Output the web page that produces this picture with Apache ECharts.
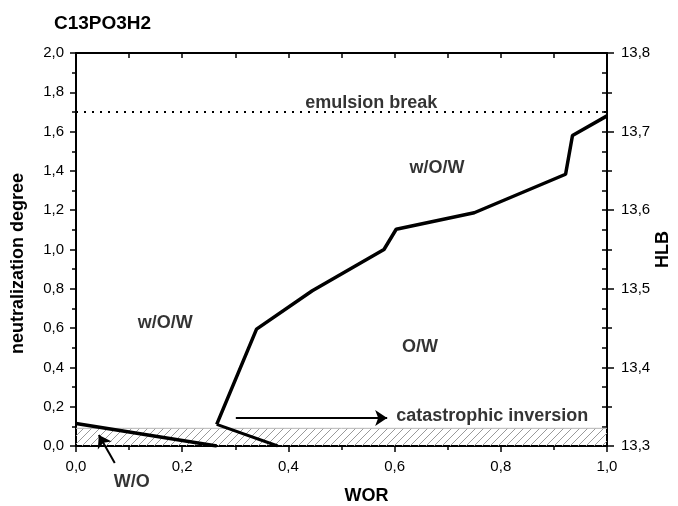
<!DOCTYPE html>
<html>
<head>
<meta charset="utf-8">
<script src="https://cdn.jsdelivr.net/npm/echarts@6/dist/echarts.min.js"></script>
<style>
  html, body { margin: 0; padding: 0; background: #fff; }
  #main { width: 678px; height: 506px; }
</style>
</head>
<body>
<div id="main"></div>
<script>
// 主曲线 (WOR, neutralization degree)
var mainCurve = [[0.265, 0.11], [0.34, 0.595], [0.445, 0.79], [0.58, 1.0], [0.603, 1.103],
  [0.75, 1.187], [0.922, 1.383], [0.935, 1.58], [1.0, 1.68]]
// W/O 边界线
var woLine = [[0.0, 0.115], [0.265, 0.0]]
var invLine = [[0.265, 0.11], [0.38, 0.0]]
// 阴影带与破乳线
var bandTop = 0.09
var breakLevel = 1.7
// 箭头
var invArrow = [[0.301, 0.1425], [0.586, 0.1425]]
var woArrow = [[0.073, -0.087], [0.043, 0.056]]
// 文字标注
var regionLabels = [
  { name: 'w/O/W', value: [0.168, 0.626] },
  { name: 'w/O/W', value: [0.68, 1.415] },
  { name: 'O/W', value: [0.648, 0.504] },
  { name: 'emulsion break', value: [0.556, 1.745] },
  { name: 'W/O', value: [0.105, -0.183] }
]
var invLabel = [{ name: 'catastrophic inversion', value: [0.603, 0.15] }]

function comma (v) {
  return v.toFixed(1).replace('.', ',')
}

// 斜线填充
function hatch () {
  var c = document.createElement('canvas')
  c.width = 8
  c.height = 8
  var ctx = c.getContext('2d')
  ctx.strokeStyle = '#9a9a9a'
  ctx.lineWidth = 1
  ctx.beginPath()
  ctx.moveTo(0, 8)
  ctx.lineTo(8, 0)
  ctx.moveTo(-2, 2)
  ctx.lineTo(2, -2)
  ctx.moveTo(6, 10)
  ctx.lineTo(10, 6)
  ctx.stroke()
  return c
}

var font = 'Liberation Sans, Arial, sans-serif'
var tickStyle = { width: 1.5, color: '#000' }
var myChart = echarts.init(document.getElementById('main'))
var option = {
  animation: false,
  textStyle: { fontFamily: font, color: '#000' },
  title: {
    text: 'C13PO3H2',
    left: 49,
    top: 9,
    textStyle: { fontFamily: font, fontSize: 19, fontWeight: 'bold', color: '#000' }
  },
  grid: { left: 76, right: 71, top: 53, bottom: 60, containLabel: false, outerBoundsMode: 'none' },
  xAxis: [
    {
      type: 'value',
      min: 0,
      max: 1,
      interval: 0.2,
      name: 'WOR',
      nameLocation: 'middle',
      nameGap: 41,
      nameTextStyle: { fontSize: 18, fontWeight: 'bold', color: '#000', padding: [0, 0, 0, 50] },
      axisLine: { show: true, onZero: false, lineStyle: { color: '#000', width: 2 } },
      axisTick: { show: true, length: 6, lineStyle: tickStyle },
      minorTick: { show: true, splitNumber: 2, length: 4, lineStyle: tickStyle },
      axisLabel: { show: true, fontSize: 15, color: '#000', margin: 13, formatter: comma },
      splitLine: { show: false }
    },
    {
      type: 'value',
      position: 'top',
      min: 0,
      max: 1,
      interval: 0.1,
      axisLine: { show: true, onZero: false, lineStyle: { color: '#000', width: 2 } },
      axisTick: { show: true, inside: true, length: 5, lineStyle: tickStyle },
      axisLabel: { show: false },
      splitLine: { show: false }
    }
  ],
  yAxis: [
    {
      type: 'value',
      min: 0,
      max: 2,
      interval: 0.2,
      name: 'neutralization degree',
      nameLocation: 'middle',
      nameGap: 49,
      nameTextStyle: { fontSize: 18, fontWeight: 'bold', color: '#000', padding: [0, 28, 0, 0] },
      axisLine: { show: true, onZero: false, lineStyle: { color: '#000', width: 2 } },
      axisTick: { show: true, length: 6, lineStyle: tickStyle },
      minorTick: { show: true, splitNumber: 2, length: 4, lineStyle: tickStyle },
      axisLabel: { show: true, fontSize: 15, color: '#000', margin: 12, formatter: comma },
      splitLine: { show: false }
    },
    {
      type: 'value',
      position: 'right',
      min: 13.3,
      max: 13.8,
      interval: 0.1,
      name: 'HLB',
      nameLocation: 'middle',
      nameGap: 47,
      nameRotate: 90,
      nameMoveOverlap: false,
      nameTextStyle: { fontSize: 18, fontWeight: 'bold', color: '#000' },
      axisLine: { show: true, onZero: false, lineStyle: { color: '#000', width: 2 } },
      axisTick: { show: true, length: 7, lineStyle: tickStyle },
      minorTick: { show: true, splitNumber: 2, length: 5, lineStyle: tickStyle },
      axisLabel: { show: true, fontSize: 15, color: '#000', margin: 14, formatter: comma },
      splitLine: { show: false }
    },
    {
      type: 'value',
      position: 'right',
      min: 13.3,
      max: 13.8,
      interval: 0.025,
      axisLine: { show: false, onZero: false },
      axisTick: { show: true, inside: true, length: 5, lineStyle: tickStyle },
      axisLabel: { show: false },
      splitLine: { show: false }
    }
  ],
  series: [
    {
      name: 'band',
      type: 'line',
      data: [[0, bandTop], [1, bandTop]],
      symbol: 'none',
      lineStyle: { color: '#b5b5b5', width: 1 },
      areaStyle: { color: { image: hatch(), repeat: 'repeat' }, opacity: 1 },
      z: 1
    },
    {
      name: 'emulsion break',
      type: 'line',
      data: [[0, breakLevel], [1, breakLevel]],
      symbol: 'none',
      lineStyle: { color: '#000', width: 2, type: [2, 6] }
    },
    {
      name: 'main',
      type: 'line',
      data: mainCurve,
      symbol: 'none',
      lineStyle: { color: '#000', width: 3.5 },
      z: 5
    },
    {
      name: 'wo',
      type: 'line',
      data: woLine,
      symbol: 'none',
      lineStyle: { color: '#000', width: 3.5 },
      z: 5
    },
    {
      name: 'inv',
      type: 'line',
      data: invLine,
      symbol: 'none',
      lineStyle: { color: '#000', width: 3 },
      z: 5
    },
    {
      name: 'arrows',
      type: 'lines',
      coordinateSystem: 'cartesian2d',
      clip: false,
      silent: true,
      symbol: ['none', 'arrow'],
      symbolSize: [10, 12],
      lineStyle: { color: '#000', width: 2, opacity: 1 },
      data: [{ coords: invArrow }, { coords: woArrow }],
      z: 6
    },
    {
      name: 'labels',
      type: 'scatter',
      data: regionLabels,
      symbolSize: 0,
      clip: false,
      label: {
        show: true,
        position: 'inside',
        formatter: '{b}',
        fontSize: 18,
        fontWeight: 'bold',
        color: '#000',
        fontFamily: font
      }
    },
    {
      name: 'invLabel',
      type: 'scatter',
      data: invLabel,
      symbolSize: 0,
      clip: false,
      label: {
        show: true,
        position: 'right',
        distance: 0,
        formatter: '{b}',
        fontSize: 18,
        fontWeight: 'bold',
        color: '#000',
        fontFamily: font
      }
    }
  ]
}
myChart.setOption(option)
</script>
</body>
</html>
